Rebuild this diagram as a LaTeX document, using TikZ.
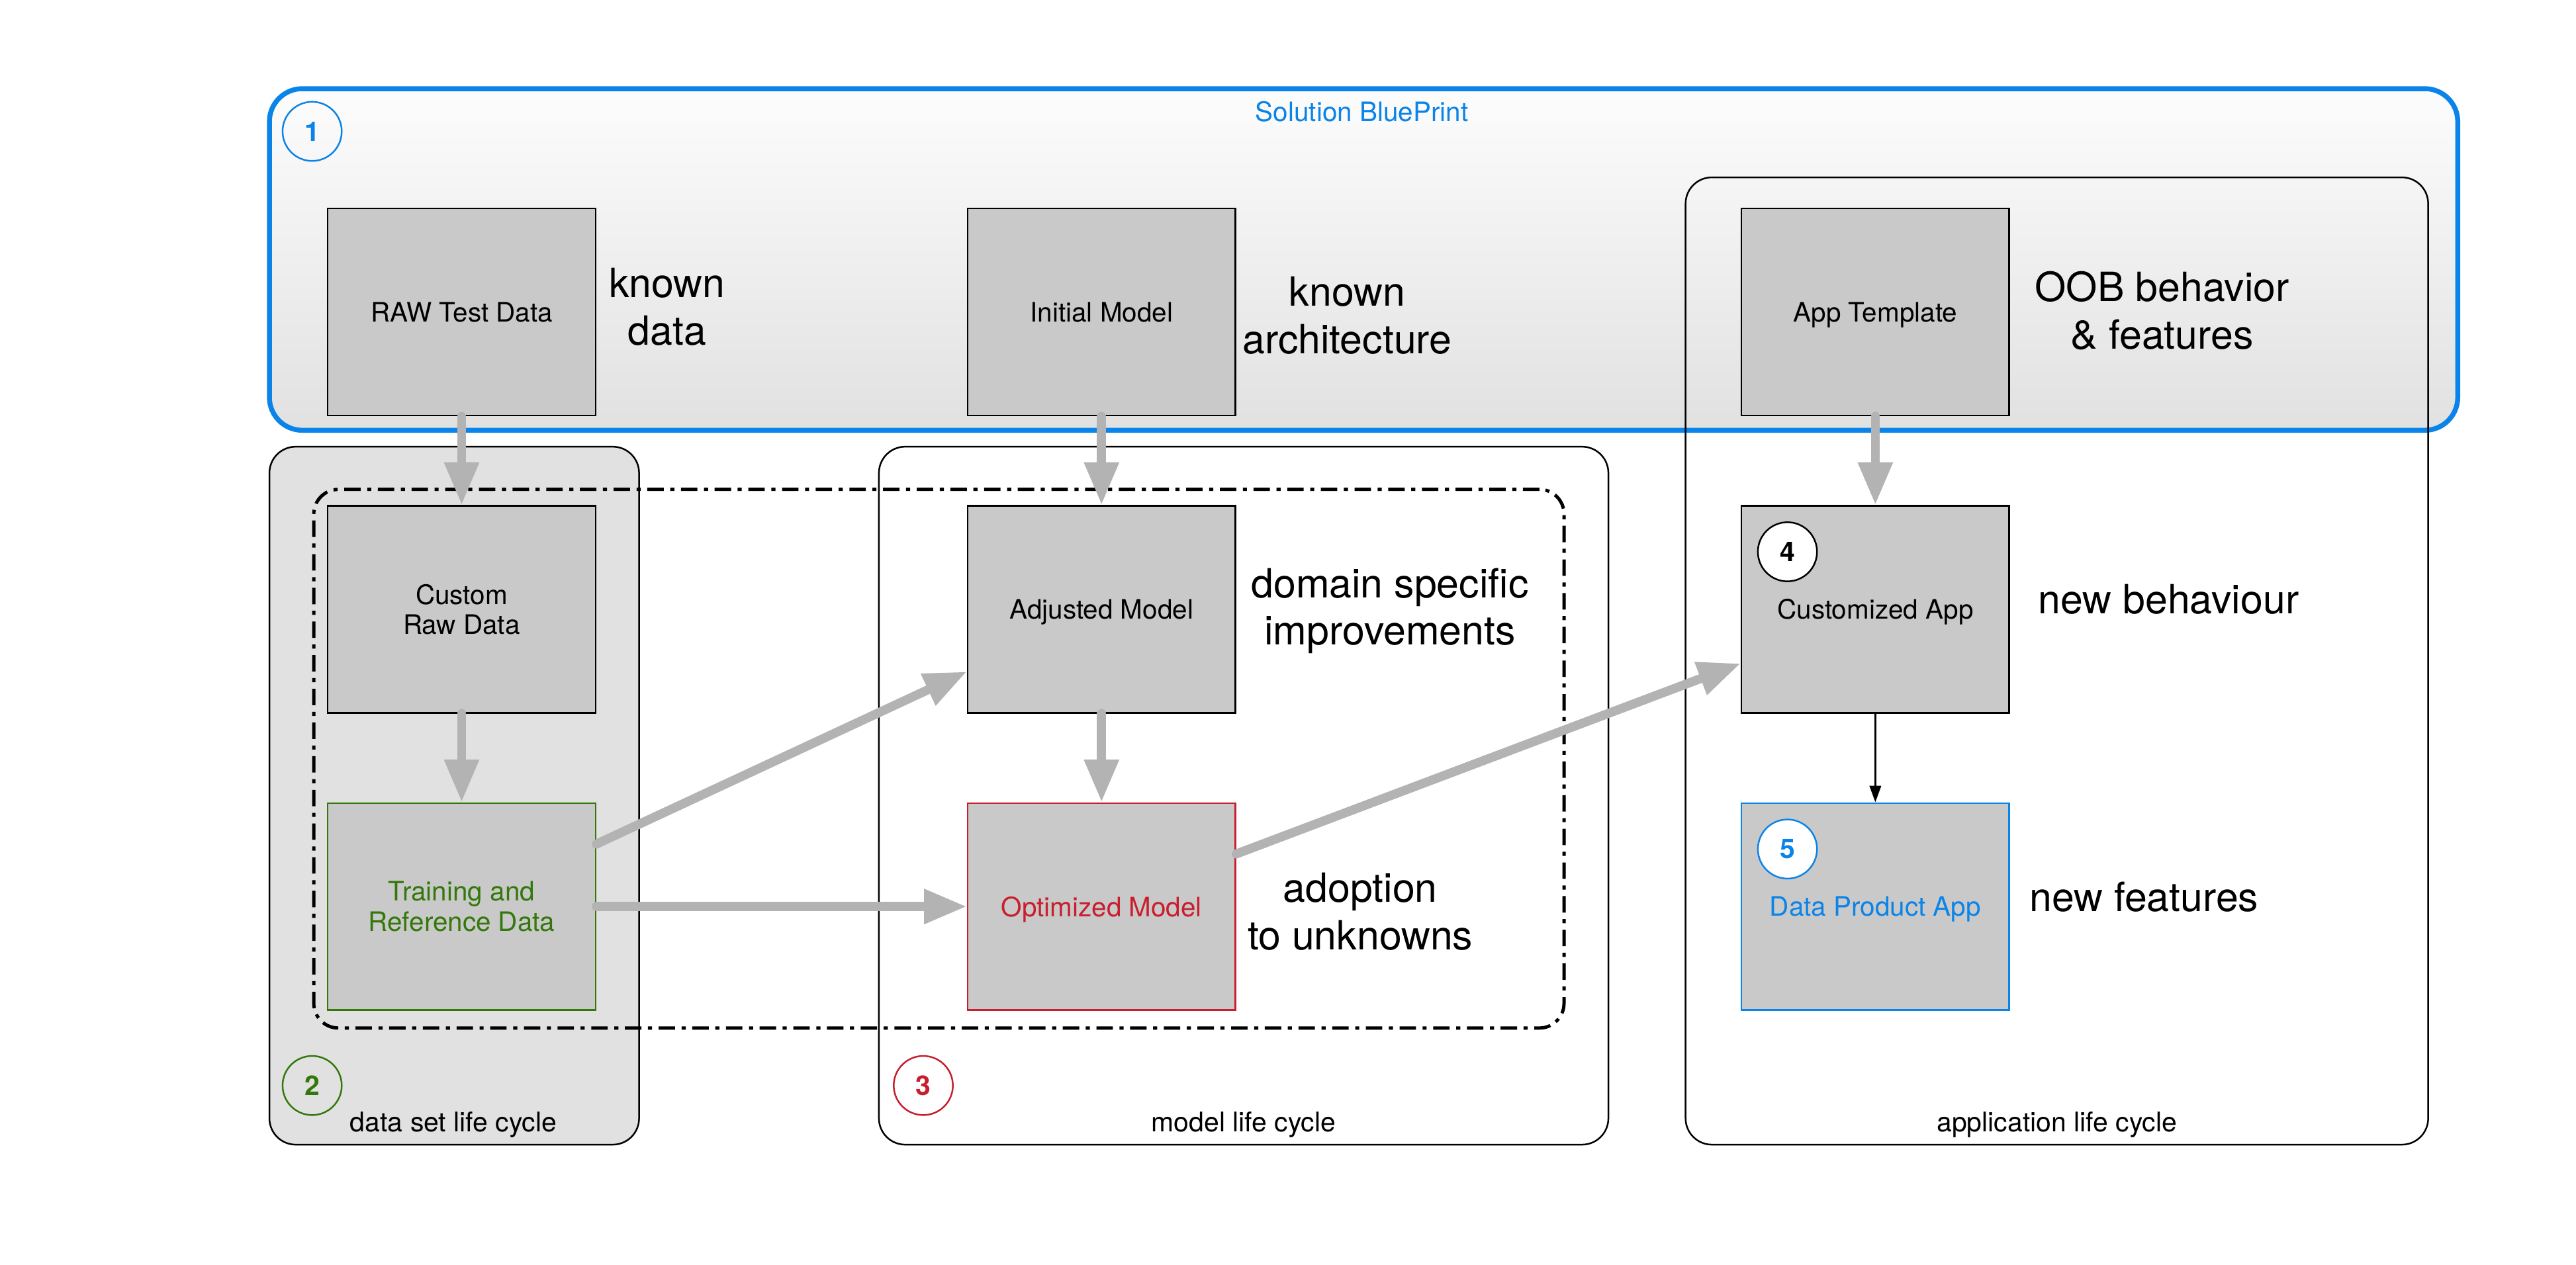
\documentclass[tikz,border=0pt]{standalone}
\usepackage{fontspec}
\setmainfont{TeX Gyre Heros}
\usetikzlibrary{arrows.meta}
\definecolor{bpblue}{RGB}{10,132,232}
\definecolor{dgreen}{RGB}{52,120,12}
\definecolor{dred}{RGB}{200,30,45}
\definecolor{boxgray}{RGB}{201,201,201}
\definecolor{dsgray}{RGB}{225,225,225}
\definecolor{arrgray}{RGB}{179,179,179}
\begin{document}
\begin{tikzpicture}[x=1pt,y=-1pt,
  container/.style={draw=black, line width=1pt, rounded corners=16pt, inner sep=0pt},
  stepbox/.style={draw=black, line width=1pt, fill=boxgray, minimum width=163pt, minimum height=126pt, inner sep=0pt, align=center, text depth=0pt, font=\fontsize{16.3}{18.5}\selectfont},
  sidetext/.style={align=center, font=\fontsize{24.5}{29}\selectfont, inner sep=0pt},
  cyclelabel/.style={font=\fontsize{16.5}{19}\selectfont, inner sep=0pt},
  numcirc/.style={circle, line width=1pt, minimum size=36pt, inner sep=0pt, font=\bfseries\fontsize{16.5}{19}\selectfont},
  garrow/.style={draw=arrgray, line width=5.5pt, line cap=round, -{Triangle[length=26pt,width=20pt]}},
  thinarrow/.style={draw=black, line width=1pt, -{Triangle[length=10pt,width=7pt]}}
]
\useasboundingbox (0,0) rectangle (1568,770.3);

% Solution blueprint
\node[container, draw=bpblue, line width=3pt, rounded corners=20pt,
      top color=white!99!black, bottom color=dsgray,
      minimum width=1332pt, minimum height=208pt] (bp) at (830,158) {};
\node[font=\fontsize{16.3}{19}\selectfont, text=bpblue, inner sep=0pt] (bptitle) at (829,68) {Solution BluePrint};
\node[numcirc, draw=bpblue, text=bpblue] (n1) at (190,80) {1};

% life cycle containers
\node[container, minimum width=452pt, minimum height=589pt] (al) at (1252,402.5) {};
\node[container, fill=dsgray, minimum width=225pt, minimum height=425pt] (ds) at (276.5,484.5) {};
\node[container, minimum width=444pt, minimum height=425pt] (ml) at (757,484.5) {};

\node[cyclelabel] (dslab) at (276,685) {data set life cycle};
\node[cyclelabel] (mllab) at (757,685) {model life cycle};
\node[cyclelabel] (allab) at (1252,685) {application life cycle};

\node[numcirc, draw=dgreen, text=dgreen] (n2) at (190,661) {2};
\node[numcirc, draw=dred, text=dred] (n3) at (562,661) {3};

% dash-dot frame
\node[draw=black, line width=2pt, rounded corners=15pt,
      dash pattern=on 10pt off 4pt on 2.5pt off 4pt,
      minimum width=761pt, minimum height=328pt, inner sep=0pt] (dd) at (571.5,462) {};

% boxes
\node[stepbox] (raw) at (281,190) {RAW Test Data};
\node[stepbox] (init) at (670.5,190) {Initial Model};
\node[stepbox] (tmpl) at (1141.5,190) {App Template};
\node[stepbox] (custom) at (281,371) {Custom\\Raw Data};
\node[stepbox] (adj) at (670.5,371) {Adjusted Model};
\node[stepbox] (cust) at (1141.5,371) {Customized App};
\node[stepbox, draw=dgreen, text=dgreen] (train) at (281,552) {Training and\\Reference Data};
\node[stepbox, draw=dred, text=dred] (opt) at (670.5,552) {Optimized Model};
\node[stepbox, draw=bpblue, text=bpblue] (dpa) at (1141.5,552) {Data Product App};

\node[numcirc, draw=black, fill=white, text=black] (n4) at (1088,336) {4};
\node[numcirc, draw=bpblue, fill=white, text=bpblue] (n5) at (1088,517) {5};

% side texts
\node[sidetext] (t1) at (406,187) {known\\data};
\node[sidetext] (t2) at (820,192) {known\\architecture};
\node[sidetext] (t3) at (1316,189) {OOB behavior\\\& features};
\node[sidetext] (t4) at (846,372) {domain specific\\improvements};
\node[sidetext] (t5) at (1320,365) {new behaviour};
\node[sidetext] (t6) at (828,555) {adoption\\to unknowns};
\node[sidetext] (t7) at (1305,546) {new features};

% arrows
\draw[garrow] (raw.south) -- (custom.north);
\draw[garrow] (init.south) -- (adj.north);
\draw[garrow] (tmpl.south) -- (cust.north);
\draw[garrow] (custom.south) -- (train.north);
\draw[garrow] (adj.south) -- (opt.north);
\draw[garrow] ([yshift=38pt]train.east) -- ([yshift=-38pt]adj.west);
\draw[garrow] (train.east) -- (opt.west);
\draw[garrow] ([yshift=32pt]opt.east) -- ([yshift=-33pt]cust.west);
\draw[thinarrow] (cust.south) -- (dpa.north);
\end{tikzpicture}
\end{document}
